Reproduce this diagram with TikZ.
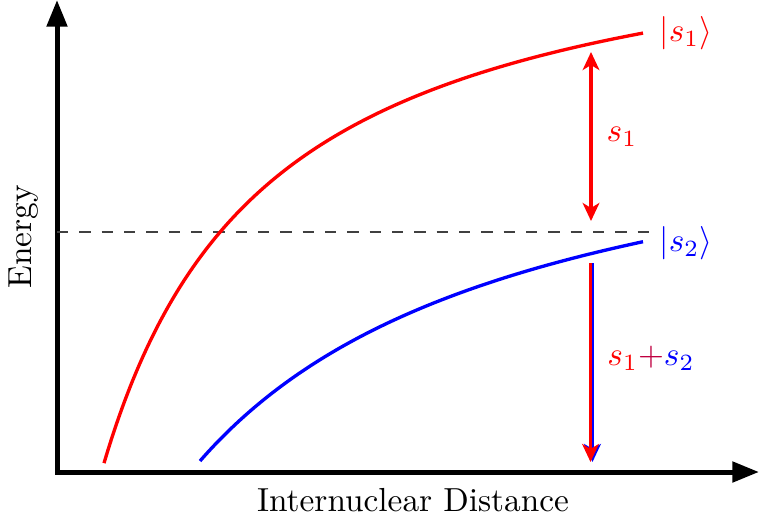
\documentclass[tikz,border=0pt]{standalone}
\usetikzlibrary{arrows.meta}
\begin{document}
\begin{tikzpicture}[x=0.3pt,y=-0.3pt,
  axis/.style={line width=1.5pt, line cap=rect, -{Triangle[length=8pt,width=6pt]}},
  curve/.style={line width=1pt},
  level/.style={dash pattern=on 3.4pt off 3.3pt, line width=0.45pt, black!75},
  gaparrow/.style={line width=1pt, {Stealth[length=5.4pt,width=5pt,inset=1.5pt]}-{Stealth[length=5.4pt,width=5pt,inset=1.5pt]}},
  downarrow/.style={line width=1pt, -{Stealth[length=5.4pt,width=5pt,inset=1.5pt]}}
]
\useasboundingbox (0,0) rectangle (759,519);
% axes
\coordinate (O) at (57,472);
\coordinate (ytop) at (57,0);
\coordinate (xend) at (759,472);
\draw[axis] (O) -- (ytop);
\draw[axis] (O) -- (xend);
% level line
\coordinate (dl) at (57,232);
\coordinate (dr) at (650,232);
\draw[level] (dl) -- (dr);
% curves
\draw[curve, red] plot[domain=104:643, samples=150] (\x, {-100 + 939.3/((\x+62.8)/100)});
\draw[curve, blue] plot[domain=200:643, samples=150] (\x, {74.1 + 1310/((\x+138.6)/100)});
% state labels
\node[red] (k1) at (686,33) {$|s_1\rangle$};
\node[blue] (k2) at (686,243) {$|s_2\rangle$};
% s1 gap arrow
\coordinate (a1t) at (591,52);
\coordinate (a1b) at (591,221);
\draw[gaparrow, red] (a1t) -- (a1b);
\node[red] (l1) at (622,137) {$s_1$};
% s1+s2 arrow
\coordinate (rt) at (590.5,263);
\coordinate (rb) at (590.5,462);
\coordinate (bt) at (592.5,263);
\coordinate (bb) at (592.5,462);
\draw[downarrow, blue] (bt) -- (bb);
\draw[downarrow, red] (rt) -- (rb);
\node (l2) at (651,358) {$\textcolor{red}{s_1}\textcolor{purple}{+}\textcolor{blue}{s_2}$};
% axis labels
\node[rotate=90] (ey) at (24,237) {Energy};
\node (ex) at (413,500) {Internuclear Distance};
\end{tikzpicture}
\end{document}
